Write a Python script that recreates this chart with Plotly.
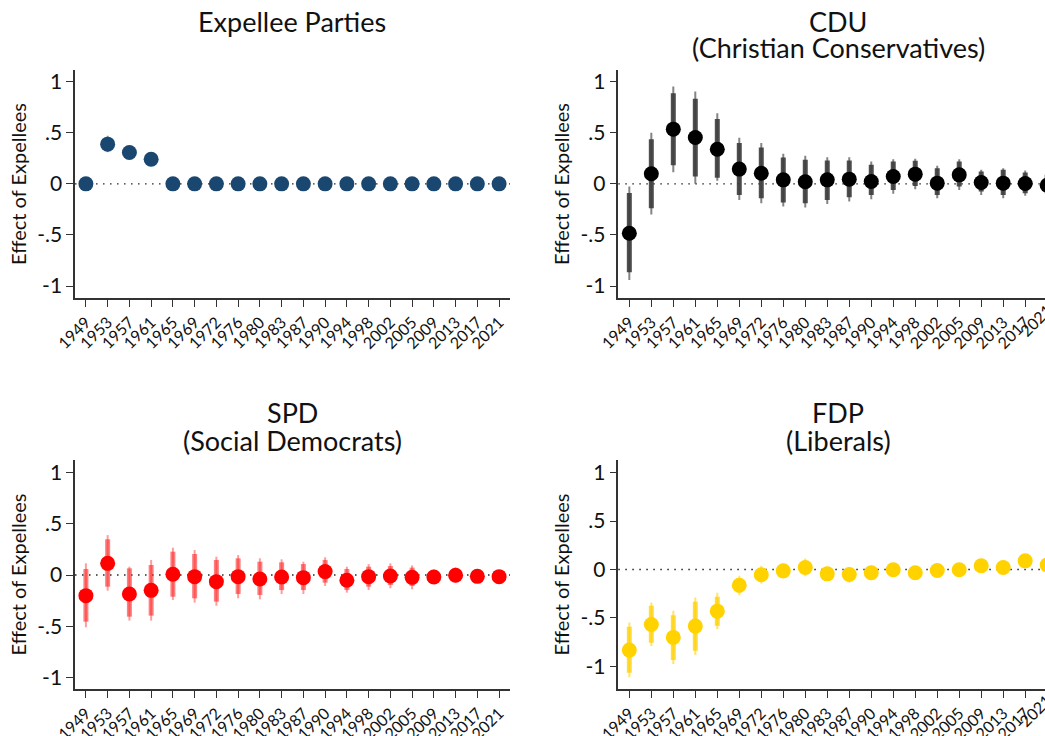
import plotly.graph_objects as go

years = ["1949", "1953", "1957", "1961", "1965", "1969", "1972", "1976", "1980", "1983",
         "1987", "1990", "1994", "1998", "2002", "2005", "2009", "2013", "2017", "2021"]

# Expellee parties
exp_est = [0, 0.388, 0.307, 0.24, 0, 0, 0, 0, 0, 0, 0, 0, 0, 0, 0, 0, 0, 0, 0, 0]
exp_lo90 = [0, 0.35, 0.28, 0.225, 0, 0, 0, 0, 0, 0, 0, 0, 0, 0, 0, 0, 0, 0, 0, 0]
exp_hi90 = [0, 0.43, 0.335, 0.255, 0, 0, 0, 0, 0, 0, 0, 0, 0, 0, 0, 0, 0, 0, 0, 0]
exp_lo95 = [0, 0.31, 0.26, 0.215, 0, 0, 0, 0, 0, 0, 0, 0, 0, 0, 0, 0, 0, 0, 0, 0]
exp_hi95 = [0, 0.47, 0.36, 0.265, 0, 0, 0, 0, 0, 0, 0, 0, 0, 0, 0, 0, 0, 0, 0, 0]

# CDU
cdu_est = [-0.483, 0.098, 0.535, 0.453, 0.339, 0.144, 0.104, 0.039, 0.02, 0.039,
           0.046, 0.023, 0.072, 0.095, 0.007, 0.088, 0.013, 0.007, 0.003, -0.013]
cdu_lo90 = [-0.865, -0.238, 0.183, 0.072, 0.06, -0.11, -0.14, -0.183, -0.19, -0.157,
            -0.13, -0.108, -0.059, -0.02, -0.108, -0.026, -0.075, -0.108, -0.091, -0.091]
cdu_hi90 = [-0.09, 0.437, 0.887, 0.832, 0.633, 0.40, 0.356, 0.258, 0.235, 0.228,
            0.228, 0.186, 0.219, 0.225, 0.153, 0.219, 0.12, 0.137, 0.111, 0.088]
cdu_lo95 = [-0.94, -0.30, 0.114, 0.0, 0.03, -0.157, -0.19, -0.222, -0.232, -0.196,
            -0.173, -0.15, -0.098, -0.052, -0.14, -0.059, -0.108, -0.14, -0.117, -0.117]
cdu_hi95 = [-0.026, 0.50, 0.953, 0.904, 0.69, 0.45, 0.40, 0.294, 0.274, 0.261,
            0.26, 0.219, 0.241, 0.245, 0.176, 0.241, 0.137, 0.153, 0.13, 0.104]

# SPD
spd_est = [-0.202, 0.114, -0.186, -0.15, 0.007, -0.016, -0.065, -0.016, -0.039, -0.02,
           -0.026, 0.033, -0.052, -0.016, -0.01, -0.023, -0.02, -0.003, -0.013, -0.016]
spd_lo90 = [-0.456, -0.114, -0.407, -0.397, -0.212, -0.228, -0.26, -0.186, -0.195, -0.147,
            -0.147, -0.075, -0.147, -0.114, -0.098, -0.107, -0.072, -0.059, -0.049, -0.055]
spd_hi90 = [0.059, 0.349, 0.065, 0.098, 0.228, 0.205, 0.147, 0.163, 0.13, 0.124,
            0.107, 0.147, 0.059, 0.081, 0.088, 0.072, 0.042, 0.055, 0.033, 0.026]
spd_lo95 = [-0.511, -0.153, -0.446, -0.446, -0.244, -0.27, -0.30, -0.228, -0.238, -0.186,
            -0.186, -0.107, -0.173, -0.147, -0.13, -0.14, -0.088, -0.075, -0.059, -0.065]
spd_hi95 = [0.114, 0.39, 0.081, 0.147, 0.267, 0.244, 0.179, 0.195, 0.163, 0.153,
            0.13, 0.173, 0.081, 0.107, 0.114, 0.094, 0.055, 0.075, 0.042, 0.042]

# FDP
fdp_est = [-0.832, -0.567, -0.701, -0.584, -0.43, -0.162, -0.055, -0.014, 0.021, -0.045,
           -0.052, -0.034, -0.003, -0.034, -0.01, -0.003, 0.038, 0.021, 0.089, 0.048]
fdp_lo90 = [-1.065, -0.756, -0.935, -0.838, -0.581, -0.237, -0.12, -0.069, -0.041, -0.085,
            -0.11, -0.086, -0.033, -0.06, -0.035, -0.025, 0.015, 0.0, 0.07, 0.03]
fdp_hi90 = [-0.591, -0.375, -0.471, -0.333, -0.282, -0.093, 0.01, 0.045, 0.086, -0.005,
            0.01, 0.02, 0.027, -0.008, 0.015, 0.02, 0.06, 0.042, 0.108, 0.066]
fdp_lo95 = [-1.113, -0.79, -0.976, -0.883, -0.615, -0.265, -0.144, -0.093, -0.069, -0.105,
            -0.134, -0.11, -0.045, -0.07, -0.045, -0.035, 0.005, -0.01, 0.06, 0.02]
fdp_hi95 = [-0.546, -0.34, -0.426, -0.289, -0.24, -0.065, 0.038, 0.062, 0.113, 0.015,
            0.027, 0.038, 0.04, 0.002, 0.025, 0.03, 0.07, 0.052, 0.118, 0.076]

ytick_vals = [-1, -0.5, 0, 0.5, 1]
ytick_text = ["-1", "-.5", "0", ".5", "1"]

FONT = "Lato, 'Open Sans', sans-serif"
W, H = 1045, 736
XT_SIZE = 16

panels = [
    dict(est=exp_est, lo90=exp_lo90, hi90=exp_hi90, lo95=exp_lo95, hi95=exp_hi95,
         marker="#1a476f", ci90="rgba(26,71,111,0.75)", ci95="rgba(26,71,111,0.55)",
         xdom=[0.0718, 0.488], ydom=[0.595, 0.905], xr=[-0.5, 19.5], yr=[-1.117, 1.114],
         title=["Expellee Parties"], ty=[21]),
    dict(est=cdu_est, lo90=cdu_lo90, hi90=cdu_hi90, lo95=cdu_lo95, hi95=cdu_hi95,
         marker="#000000", ci90="rgba(60,60,60,0.9)", ci95="rgba(80,80,80,0.7)",
         xdom=[0.5917, 1.0], ydom=[0.595, 0.905], xr=[-0.5, 18.9], yr=[-1.117, 1.114],
         title=["CDU", "(Christian Conservatives)"], ty=[21, 48]),
    dict(est=spd_est, lo90=spd_lo90, hi90=spd_hi90, lo95=spd_lo95, hi95=spd_hi95,
         marker="#ff0000", ci90="rgba(255,40,40,0.6)", ci95="rgba(255,60,60,0.5)",
         xdom=[0.0718, 0.488], ydom=[0.0639, 0.375], xr=[-0.5, 19.5], yr=[-1.114, 1.124],
         title=["SPD", "(Social Democrats)"], ty=[412, 440]),
    dict(est=fdp_est, lo90=fdp_lo90, hi90=fdp_hi90, lo95=fdp_lo95, hi95=fdp_hi95,
         marker="#ffd200", ci90="rgba(255,210,0,0.75)", ci95="rgba(255,210,0,0.6)",
         xdom=[0.5917, 1.0], ydom=[0.0639, 0.375], xr=[-0.5, 18.9], yr=[-1.233, 1.13],
         title=["FDP", "(Liberals)"], ty=[412, 440]),
]

fig = go.Figure()
xs = list(range(len(years)))
layout = {}
annotations = []
shapes = []
for k, p in enumerate(panels):
    n = "" if k == 0 else str(k + 1)
    xa, ya = "x" + n, "y" + n
    fig.add_trace(go.Scatter(
        x=xs, y=p["est"], mode="markers", xaxis=xa, yaxis=ya,
        marker=dict(size=1, opacity=0), showlegend=False, hoverinfo="skip",
        error_y=dict(type="data", symmetric=False,
                     array=[h - e for h, e in zip(p["hi95"], p["est"])],
                     arrayminus=[e - l for e, l in zip(p["est"], p["lo95"])],
                     color=p["ci95"], thickness=2, width=0)))
    fig.add_trace(go.Scatter(
        x=xs, y=p["est"], mode="markers", xaxis=xa, yaxis=ya,
        marker=dict(size=1, opacity=0), showlegend=False, hoverinfo="skip",
        error_y=dict(type="data", symmetric=False,
                     array=[h - e for h, e in zip(p["hi90"], p["est"])],
                     arrayminus=[e - l for e, l in zip(p["est"], p["lo90"])],
                     color=p["ci90"], thickness=5, width=0)))
    fig.add_trace(go.Scatter(
        x=xs, y=p["est"], mode="markers", xaxis=xa, yaxis=ya,
        marker=dict(size=15, color=p["marker"], line=dict(width=0)),
        showlegend=False))
    layout["xaxis" + n] = dict(
        domain=p["xdom"], anchor=ya, range=p["xr"], tickmode="array", automargin=False,
        tickvals=xs, ticktext=years, tickangle=-45, ticks="outside", ticklen=7,
        tickwidth=1.2, tickcolor="#333", showline=True, linecolor="#333", linewidth=1.5,
        showgrid=False, zeroline=False, tickfont=dict(size=XT_SIZE, color="#111", family=FONT))
    layout["yaxis" + n] = dict(
        domain=p["ydom"], anchor=xa, range=p["yr"], tickmode="array", automargin=False,
        tickvals=ytick_vals, ticktext=ytick_text, ticks="outside", ticklen=7,
        tickwidth=1.2, tickcolor="#333", showline=True, linecolor="#333", linewidth=1.5,
        showgrid=False, zeroline=False, tickfont=dict(size=21, color="#111", family=FONT),
        title=dict(text="Effect of Expellees", font=dict(size=20, color="#111", family=FONT),
                   standoff=5))
    shapes.append(dict(type="line", xref=xa + " domain", yref=ya, x0=0, x1=1, y0=0, y1=0,
                       line=dict(color="#222", width=1.3, dash="1.5px,5.5px"), layer="below"))
    span = p["xr"][1] - p["xr"][0]
    full_right = p["xdom"][0] + (19.5 + 0.5) / span * (p["xdom"][1] - p["xdom"][0])
    cx = (p["xdom"][0] + full_right) / 2
    for line, ypx in zip(p["title"], p["ty"]):
        annotations.append(dict(
            text=line, xref="paper", yref="paper", x=cx, y=1 - ypx / H,
            xanchor="center", yanchor="middle", showarrow=False,
            font=dict(size=27, color="#111", family=FONT)))
    # last year label, which falls just past the right edge of the cropped right-hand panels
    if p["xr"][1] < len(years) - 1:
        last_x = p["xdom"][0] + (len(years) - 1 - p["xr"][0]) / span * (p["xdom"][1] - p["xdom"][0])
        annotations.append(dict(
            text=years[-1], xref="paper", yref="paper", x=last_x, y=p["ydom"][0],
            xshift=-12, yshift=-22, textangle=-45, showarrow=False,
            xanchor="center", yanchor="middle",
            font=dict(size=XT_SIZE, color="#111", family=FONT)))

fig.update_layout(
    width=W, height=H, margin=dict(l=0, r=0, t=0, b=0),
    paper_bgcolor="white", plot_bgcolor="white",
    annotations=annotations, shapes=shapes, **layout)

fig.write_html("out.html", config={"displayModeBar": False},
               post_script="document.body.style.margin='0';document.body.style.overflow='hidden';")
